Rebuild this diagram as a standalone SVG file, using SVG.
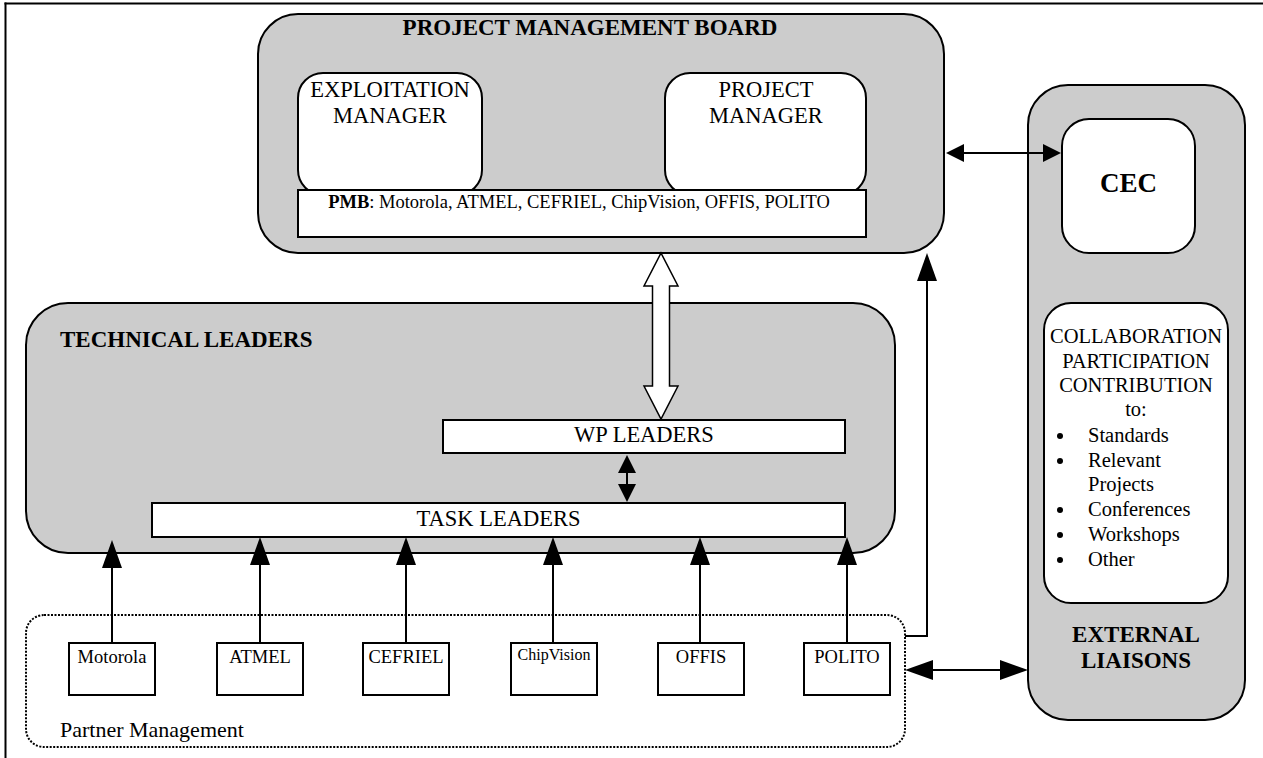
<svg xmlns="http://www.w3.org/2000/svg" width="1263" height="758" viewBox="0 0 1263 758">
<style>
  .gray { fill: #cccccc; stroke: #000; stroke-width: 2; }
  .white { fill: #fff; stroke: #000; stroke-width: 2; }
  .t { font-family: "Liberation Serif", "Times New Roman", serif; fill: #000; }
  .b { font-weight: bold; }
  .mid { text-anchor: middle; }
  .conn { fill: none; stroke: #000; stroke-width: 2; }
  .dotted { fill: none; stroke: #000; stroke-width: 2; stroke-dasharray: 2 1.5; }
</style>
<defs>
  <marker id="big" viewBox="0 0 28 20" refX="25" refY="10" markerWidth="28" markerHeight="20" markerUnits="userSpaceOnUse" orient="auto-start-reverse">
    <path d="M0,0 L28,10 L0,20 z" fill="#000"/>
  </marker>
  <marker id="small" viewBox="0 0 18 18" refX="16" refY="9" markerWidth="18" markerHeight="18" markerUnits="userSpaceOnUse" orient="auto-start-reverse">
    <path d="M0,0 L18,9 L0,18 z" fill="#000"/>
  </marker>
</defs>
<rect width="1263" height="758" fill="#fff"/>
<g id="frame">
  <line x1="4.5" y1="3.5" x2="1263" y2="3.5" stroke="#000" stroke-width="2"/>
  <line x1="5.5" y1="2.5" x2="5.5" y2="758" stroke="#000" stroke-width="2"/>
</g>

<g id="pmb">
  <rect class="gray" x="258" y="14" width="686" height="239" rx="40"/>
  <text class="t b mid" x="590" y="35" font-size="23">PROJECT MANAGEMENT BOARD</text>
</g>
<g id="exploitation-manager">
  <rect class="white" x="298" y="73" width="184" height="122" rx="25"/>
  <text class="t mid" x="390" y="97" font-size="22.5">EXPLOITATION</text>
  <text class="t mid" x="390" y="123" font-size="22.5">MANAGER</text>
</g>
<g id="project-manager">
  <rect class="white" x="665" y="73" width="201" height="122" rx="25"/>
  <text class="t mid" x="766" y="97" font-size="22.5">PROJECT</text>
  <text class="t mid" x="766" y="123" font-size="22.5">MANAGER</text>
</g>
<g id="pmb-members">
  <rect class="white" x="298" y="190" width="568" height="47"/>
  <text class="t mid" x="579" y="208" font-size="18.5"><tspan class="b">PMB</tspan>: Motorola, ATMEL, CEFRIEL, ChipVision, OFFIS, POLITO</text>
</g>

<g id="technical-leaders">
  <rect class="gray" x="26" y="303" width="869" height="250" rx="42"/>
  <text class="t b" x="60" y="347" font-size="23">TECHNICAL LEADERS</text>
</g>
<g id="wp-leaders">
  <rect class="white" x="443" y="420" width="402" height="33"/>
  <text class="t mid" x="644" y="442" font-size="22.5">WP LEADERS</text>
</g>
<g id="task-leaders">
  <rect class="white" x="152" y="503" width="693" height="34"/>
  <text class="t mid" x="498.5" y="526" font-size="22.5">TASK LEADERS</text>
</g>

<g id="external-liaisons">
  <rect class="gray" x="1028" y="85" width="217" height="635" rx="40"/>
  <text class="t b mid" x="1136" y="642" font-size="23">EXTERNAL</text>
  <text class="t b mid" x="1136" y="668" font-size="23">LIAISONS</text>
</g>
<g id="cec">
  <rect class="white" x="1062" y="119" width="133" height="134" rx="27"/>
  <text class="t b mid" x="1128.5" y="192" font-size="27">CEC</text>
</g>
<g id="collaboration">
  <rect class="white" x="1044" y="303" width="184" height="300" rx="27"/>
  <text class="t mid" x="1136" y="343" font-size="20.5">COLLABORATION</text>
  <text class="t mid" x="1136" y="368" font-size="20.5">PARTICIPATION</text>
  <text class="t mid" x="1136" y="392" font-size="20.5">CONTRIBUTION</text>
  <text class="t mid" x="1136" y="416" font-size="20.5">to:</text>
  <g fill="#000">
    <circle cx="1060" cy="436" r="3"/>
    <circle cx="1060" cy="461" r="3"/>
    <circle cx="1060" cy="510" r="3"/>
    <circle cx="1060" cy="535" r="3"/>
    <circle cx="1060" cy="560" r="3"/>
  </g>
  <text class="t" x="1088" y="442" font-size="20.5">Standards</text>
  <text class="t" x="1088" y="467" font-size="20.5">Relevant</text>
  <text class="t" x="1088" y="491" font-size="20.5">Projects</text>
  <text class="t" x="1088" y="516" font-size="20.5">Conferences</text>
  <text class="t" x="1088" y="541" font-size="20.5">Workshops</text>
  <text class="t" x="1088" y="566" font-size="20.5">Other</text>
</g>

<g id="partner-management">
  <rect class="dotted" x="26" y="615" width="879" height="132" rx="18"/>
  <text class="t" x="60" y="737" font-size="22">Partner Management</text>
</g>
<g id="motorola">
  <rect class="white" x="69" y="643" width="86" height="52"/>
  <text class="t mid" x="112" y="663" font-size="18.5">Motorola</text>
</g>
<g id="atmel">
  <rect class="white" x="217" y="643" width="86" height="52"/>
  <text class="t mid" x="260" y="663" font-size="18.5">ATMEL</text>
</g>
<g id="cefriel">
  <rect class="white" x="363" y="643" width="86" height="52"/>
  <text class="t mid" x="406" y="663" font-size="18.5">CEFRIEL</text>
</g>
<g id="chipvision">
  <rect class="white" x="511" y="643" width="86" height="52"/>
  <text class="t mid" x="554" y="660" font-size="16">ChipVision</text>
</g>
<g id="offis">
  <rect class="white" x="658" y="643" width="86" height="52"/>
  <text class="t mid" x="701" y="663" font-size="18.5">OFFIS</text>
</g>
<g id="polito">
  <rect class="white" x="804" y="643" width="86" height="52"/>
  <text class="t mid" x="847" y="663" font-size="18.5">POLITO</text>
</g>

<g id="connectors">
  <line class="conn" x1="948" y1="153" x2="1059" y2="153" marker-start="url(#small)" marker-end="url(#small)"/>
  <polygon points="661,253 678,286 669.5,286 669.5,386 678,386 661,419 644,386 652.5,386 652.5,286 644,286" fill="#fff" stroke="#000" stroke-width="1.5" stroke-linejoin="miter"/>
  <line class="conn" x1="627" y1="457" x2="627" y2="500" marker-start="url(#small)" marker-end="url(#small)"/>
  <line class="conn" x1="112" y1="643" x2="112" y2="543" marker-end="url(#big)"/>
  <line class="conn" x1="260" y1="643" x2="260" y2="540" marker-end="url(#big)"/>
  <line class="conn" x1="406" y1="643" x2="406" y2="540" marker-end="url(#big)"/>
  <line class="conn" x1="553" y1="643" x2="553" y2="540" marker-end="url(#big)"/>
  <line class="conn" x1="700" y1="643" x2="700" y2="540" marker-end="url(#big)"/>
  <line class="conn" x1="847" y1="643" x2="847" y2="540" marker-end="url(#big)"/>
  <polyline class="conn" points="905,636 927,636 927,256" marker-end="url(#big)"/>
  <line class="conn" x1="908" y1="670" x2="1025" y2="670" marker-start="url(#big)" marker-end="url(#big)"/>
</g>
</svg>
